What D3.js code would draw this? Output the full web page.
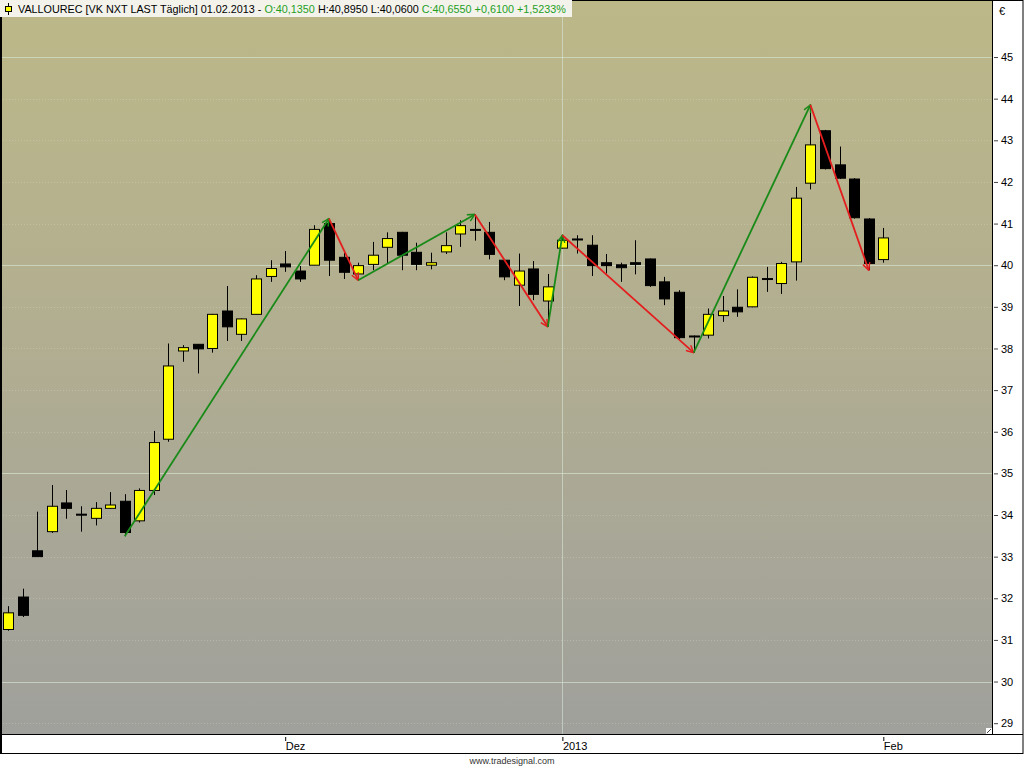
<!DOCTYPE html>
<html>
<head>
<meta charset="utf-8">
<script src="https://cdn.jsdelivr.net/npm/d3@7/dist/d3.min.js"></script>
<style>
  html, body { margin: 0; padding: 0; background: #fff; }
  svg { display: block; font-family: "Liberation Sans", Arial, sans-serif; }
</style>
</head>
<body>
<div id="chart"></div>
<script>
// Tagesdaten VALLOUREC, 06.11.2012 - 01.02.2013
const dates = [
  "06.11.2012", "07.11.2012", "08.11.2012", "09.11.2012", "12.11.2012",
  "13.11.2012", "14.11.2012", "15.11.2012", "16.11.2012", "19.11.2012",
  "20.11.2012", "21.11.2012", "22.11.2012", "23.11.2012", "26.11.2012",
  "27.11.2012", "28.11.2012", "29.11.2012", "30.11.2012", "03.12.2012",
  "04.12.2012", "05.12.2012", "06.12.2012", "07.12.2012", "10.12.2012",
  "11.12.2012", "12.12.2012", "13.12.2012", "14.12.2012", "17.12.2012",
  "18.12.2012", "19.12.2012", "20.12.2012", "21.12.2012", "24.12.2012",
  "27.12.2012", "28.12.2012", "31.12.2012", "02.01.2013", "03.01.2013",
  "04.01.2013", "07.01.2013", "08.01.2013", "09.01.2013", "10.01.2013",
  "11.01.2013", "14.01.2013", "15.01.2013", "16.01.2013", "17.01.2013",
  "18.01.2013", "21.01.2013", "22.01.2013", "23.01.2013", "24.01.2013",
  "25.01.2013", "28.01.2013", "29.01.2013", "30.01.2013", "31.01.2013",
  "01.02.2013"
];
const opens = [
  31.25, 32.03, 33.14, 33.60, 34.29, 34.02, 33.92, 34.16, 34.33, 33.86,
  34.59, 35.82, 37.94, 38.10, 38.00, 38.90, 38.34, 38.82, 39.73, 40.03,
  39.86, 40.00, 41.00, 40.19, 39.79, 40.02, 40.43, 40.79, 40.31, 40.00,
  40.32, 40.75, 40.86, 40.79, 40.12, 39.52, 39.91, 39.14, 40.41, 40.63,
  40.48, 40.06, 40.01, 40.06, 40.15, 39.60, 39.35, 38.30, 38.32, 38.79,
  38.99, 39.00, 39.67, 39.56, 40.08, 41.97, 43.23, 42.41, 42.07, 41.11,
  40.135
];
const highs = [
  31.81, 32.23, 34.08, 34.72, 34.60, 34.21, 34.31, 34.55, 34.50, 34.64,
  36.02, 38.12, 38.08, 38.10, 38.83, 39.50, 38.72, 39.76, 40.12, 40.34,
  39.98, 40.96, 41.12, 40.30, 40.06, 40.56, 40.79, 40.80, 40.54, 40.30,
  40.79, 41.08, 41.22, 41.04, 40.15, 40.28, 40.10, 39.79, 40.72, 40.72,
  40.72, 40.27, 40.06, 40.60, 40.16, 39.72, 39.40, 38.31, 38.96, 39.26,
  39.42, 39.73, 39.96, 40.08, 41.88, 43.85, 43.25, 42.85, 42.09, 41.13,
  40.895
];
const lows = [
  31.22, 31.55, 33.00, 33.57, 33.91, 33.60, 33.75, 34.15, 33.49, 33.82,
  34.48, 35.76, 37.68, 37.40, 37.90, 38.18, 38.18, 38.82, 39.60, 39.84,
  39.60, 40.00, 39.74, 39.67, 39.64, 39.88, 40.04, 39.88, 39.88, 39.90,
  40.27, 40.44, 40.59, 40.14, 39.64, 39.02, 39.16, 38.52, 40.40, 40.28,
  39.74, 39.80, 39.60, 39.78, 39.48, 39.04, 38.20, 37.90, 38.24, 38.64,
  38.76, 38.99, 39.36, 39.31, 39.63, 41.82, 42.30, 42.07, 41.12, 39.88,
  40.06
];
const closes = [
  31.65, 31.59, 33.00, 34.21, 34.16, 34.00, 34.16, 34.24, 33.58, 34.59,
  35.74, 37.58, 38.02, 37.99, 38.82, 38.52, 38.71, 39.67, 39.92, 39.96,
  39.67, 40.86, 40.12, 39.83, 39.99, 40.24, 40.64, 40.24, 40.02, 40.06,
  40.47, 40.95, 40.84, 40.26, 39.72, 39.86, 39.30, 39.48, 40.60, 40.61,
  39.99, 39.99, 39.94, 40.02, 39.51, 39.19, 38.26, 38.28, 38.82, 38.90,
  38.88, 39.71, 39.68, 40.04, 41.61, 42.89, 42.32, 42.09, 41.14, 40.04,
  40.655
];

// ZigZag-Wendepunkte (Index der Kerze, Kurs)
const zigIdx = [8, 22, 24, 32, 37, 38, 47, 55, 59];
const zigVal = [33.49, 41.12, 39.64, 41.22, 38.52, 40.72, 37.90, 43.85, 39.88];

const priceTicks = [29, 30, 31, 32, 33, 34, 35, 36, 37, 38, 39, 40, 41, 42, 43, 44, 45];
const majorTicks = [30, 35, 40, 45];
const monthIdx = [19, 38, 60];
const monthLabels = ["Dez", "2013", "Feb"];

const headerParts = [
  { t: "VALLOUREC [VK NXT LAST Täglich] 01.02.2013 - ", c: "#000" },
  { t: "O:40,1350", c: "#1ea01e" },
  { t: " H:40,8950 L:40,0600 ", c: "#000" },
  { t: "C:40,6550 +0,6100 +1,5233%", c: "#1ea01e" }
];

const width = 1024;
const height = 768;
const plotW = 992;
const plotH = 734;

const candles = dates.map((d, i) => ({
  i, date: d, o: opens[i], h: highs[i], l: lows[i], c: closes[i]
}));

const x = d3.scaleLinear().domain([-0.55, 67.45]).range([0, plotW]);
const y = d3.scaleLinear().domain([28.74, 46.37]).range([plotH, 0]);

const svg = d3.select("#chart")
  .append("svg")
  .attr("width", width)
  .attr("height", height);

const defs = svg.append("defs");
const grad = defs.append("linearGradient")
  .attr("id", "bg")
  .attr("x1", 0).attr("y1", 0).attr("x2", 0).attr("y2", 1);
grad.append("stop").attr("offset", "0%").attr("stop-color", "#bdb888");
grad.append("stop").attr("offset", "50%").attr("stop-color", "#b0ad92");
grad.append("stop").attr("offset", "100%").attr("stop-color", "#a0a09c");

["up", "down"].forEach((k) => {
  defs.append("marker")
    .attr("id", "arrow-" + k)
    .attr("viewBox", "0 0 10 10")
    .attr("refX", 9)
    .attr("refY", 5)
    .attr("markerWidth", 5)
    .attr("markerHeight", 5)
    .attr("markerUnits", "strokeWidth")
    .attr("orient", "auto")
    .append("path")
    .attr("d", "M1,1 L9,5 L1,9")
    .attr("fill", "none")
    .attr("stroke", k === "up" ? "#188a18" : "#e41e1e")
    .attr("stroke-width", 1.6);
});

svg.append("rect")
  .attr("x", 0).attr("y", 0)
  .attr("width", plotW).attr("height", plotH)
  .attr("fill", "url(#bg)");

// Gitternetz
const grid = svg.append("g");
grid.selectAll("line.h")
  .data(priceTicks)
  .join("line")
  .attr("class", "h")
  .attr("x1", 0).attr("x2", plotW)
  .attr("y1", (d) => Math.round(y(d)) + 0.5)
  .attr("y2", (d) => Math.round(y(d)) + 0.5)
  .attr("stroke", (d) => majorTicks.includes(d) ? "rgba(215,230,210,0.65)" : "rgba(225,225,210,0.3)")
  .attr("stroke-dasharray", (d) => majorTicks.includes(d) ? null : "1,2");

grid.append("line")
  .attr("x1", Math.round(x(38)) + 0.5).attr("x2", Math.round(x(38)) + 0.5)
  .attr("y1", 0).attr("y2", plotH)
  .attr("stroke", "rgba(215,230,215,0.6)");

// Kerzen
const bodyW = 10;
const cg = svg.append("g");
cg.selectAll("line.wick")
  .data(candles)
  .join("line")
  .attr("class", "wick")
  .attr("x1", (d) => Math.round(x(d.i)) + 0.5)
  .attr("x2", (d) => Math.round(x(d.i)) + 0.5)
  .attr("y1", (d) => y(d.h))
  .attr("y2", (d) => y(d.l))
  .attr("stroke", "#000")
  .attr("stroke-width", 1);

cg.selectAll("rect.body")
  .data(candles)
  .join("rect")
  .attr("class", "body")
  .attr("x", (d) => Math.round(x(d.i)) - bodyW / 2 + 0.5)
  .attr("y", (d) => y(Math.max(d.o, d.c)))
  .attr("width", bodyW)
  .attr("height", (d) => Math.max(1, y(Math.min(d.o, d.c)) - y(Math.max(d.o, d.c))))
  .attr("fill", (d) => d.c >= d.o ? "#ffff00" : "#000")
  .attr("stroke", "#000")
  .attr("stroke-width", 1);

// ZigZag
const zg = svg.append("g");
for (let k = 0; k < zigIdx.length - 1; k++) {
  const up = zigVal[k + 1] > zigVal[k];
  zg.append("line")
    .attr("x1", x(zigIdx[k])).attr("y1", y(zigVal[k]))
    .attr("x2", x(zigIdx[k + 1])).attr("y2", y(zigVal[k + 1]))
    .attr("stroke", up ? "#188a18" : "#e41e1e")
    .attr("stroke-width", 1.8)
    .attr("marker-end", `url(#arrow-${up ? "up" : "down"})`);
}

// Rahmen
svg.append("rect")
  .attr("x", 0.5).attr("y", 0.5)
  .attr("width", width - 1.5).attr("height", 753)
  .attr("fill", "none")
  .attr("stroke", "#000");
svg.append("line")
  .attr("x1", 1).attr("x2", 1).attr("y1", 0).attr("y2", 754)
  .attr("stroke", "#000").attr("stroke-width", 2);
svg.append("line")
  .attr("x1", 0).attr("x2", width - 1)
  .attr("y1", plotH + 0.5).attr("y2", plotH + 0.5)
  .attr("stroke", "#000");
svg.append("line")
  .attr("x1", plotW + 0.5).attr("x2", plotW + 0.5)
  .attr("y1", 0).attr("y2", plotH)
  .attr("stroke", "#000");

// Griff unten rechts
svg.append("rect")
  .attr("x", plotW - 6).attr("y", plotH - 6)
  .attr("width", 6).attr("height", 6)
  .attr("fill", "#fff");
svg.append("line")
  .attr("x1", plotW - 5).attr("y1", plotH - 1)
  .attr("x2", plotW - 1).attr("y2", plotH - 5)
  .attr("stroke", "#444");

// Kursachse rechts
const yAxis = svg.append("g")
  .attr("transform", `translate(${plotW + 2},0)`)
  .call(d3.axisRight(y).tickValues(priceTicks).tickSize(4).tickPadding(3).tickFormat(d3.format("d")));
yAxis.select(".domain").remove();
yAxis.selectAll("text").attr("font-size", 11).attr("fill", "#000").attr("font-family", "Liberation Sans, Arial, sans-serif");
yAxis.selectAll("line").attr("stroke", "#444");

svg.append("text")
  .attr("x", 999).attr("y", 15)
  .attr("font-size", 11)
  .text("€");

// Zeitachse unten
const xAxis = svg.append("g")
  .attr("transform", `translate(0,${plotH + 3})`)
  .call(d3.axisBottom(x).tickValues(monthIdx).tickSize(4).tickFormat((d, k) => monthLabels[k]));
xAxis.select(".domain").remove();
xAxis.selectAll("line").attr("stroke", "#000");
xAxis.selectAll("text")
  .attr("text-anchor", "start")
  .attr("x", 0)
  .attr("y", 5)
  .attr("font-size", 11)
  .attr("fill", "#000")
  .attr("font-family", "Liberation Sans, Arial, sans-serif");

// Kopfzeile
svg.append("rect")
  .attr("x", 0).attr("y", 0)
  .attr("width", 572).attr("height", 17)
  .attr("fill", "#f3f3ec");
svg.append("line")
  .attr("x1", 8.5).attr("x2", 8.5).attr("y1", 3).attr("y2", 15)
  .attr("stroke", "#000");
svg.append("rect")
  .attr("x", 5.5).attr("y", 6.5).attr("width", 6).attr("height", 5)
  .attr("fill", "#ffff00").attr("stroke", "#000");
const header = svg.append("text")
  .attr("x", 18).attr("y", 13)
  .attr("font-size", 10.8);
header.selectAll("tspan")
  .data(headerParts)
  .join("tspan")
  .attr("fill", (d) => d.c)
  .attr("xml:space", "preserve")
  .text((d) => d.t);

svg.append("text")
  .attr("x", 512).attr("y", 764)
  .attr("text-anchor", "middle")
  .attr("font-size", 9)
  .attr("fill", "#333")
  .text("www.tradesignal.com");
</script>
</body>
</html>
